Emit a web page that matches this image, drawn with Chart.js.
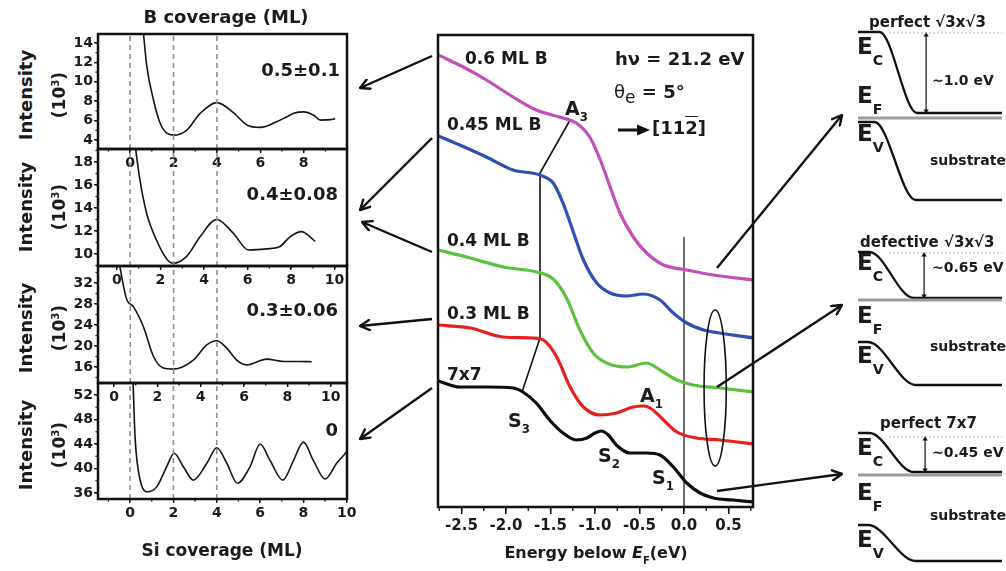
<!DOCTYPE html>
<html>
<head>
<meta charset="utf-8">
<script src="https://cdn.jsdelivr.net/npm/chart.js@4.4.1/dist/chart.umd.min.js"></script>
<style>
  body { margin: 0; background: #fff; }
  #fig { position: relative; width: 1006px; height: 571px; overflow: hidden;
         font-family: 'DejaVu Sans', sans-serif; font-weight: bold; color: #1b1b1b; }
  #fig canvas, #fig svg { position: absolute; }
  .t { position: absolute; white-space: nowrap; line-height: 1; }
  .sb { font-size: 0.62em; position: relative; top: 0.55em; }
  .sp { font-size: 0.6em; position: relative; top: -0.6em; }
</style>
</head>
<body>
<div id="fig">
  <canvas id="p1" width="320" height="150" style="left:40px;top:24px"></canvas>
  <canvas id="p2" width="320" height="152" style="left:40px;top:139px"></canvas>
  <canvas id="p3" width="320" height="152" style="left:40px;top:256px"></canvas>
  <canvas id="p4" width="320" height="151" style="left:40px;top:373px"></canvas>
  <canvas id="ups" width="360" height="545" style="left:410px;top:25px"></canvas>
  <canvas id="bandA" width="156" height="200" style="left:850px;top:15px"></canvas>
  <canvas id="bandB" width="156" height="165" style="left:850px;top:235px"></canvas>
  <canvas id="bandC" width="156" height="156" style="left:850px;top:415px"></canvas>
  <div id="labels"></div>
  <svg width="1006" height="571" style="left:0;top:0">
    <defs>
      <marker id="hd" viewBox="0 0 12 12" refX="11" refY="6" markerWidth="12" markerHeight="12"
              markerUnits="userSpaceOnUse" orient="auto">
        <path d="M1.5,1 L11,6 L1.5,11" fill="none" stroke="#111" stroke-width="2.4"
              stroke-linecap="round" stroke-linejoin="round"/>
      </marker>
    </defs>
    <g stroke="#111" stroke-width="2.4" marker-end="url(#hd)">
      <line x1="432" y1="56" x2="360" y2="88"/>
      <line x1="432" y1="138" x2="360" y2="210"/>
      <line x1="432" y1="252" x2="362" y2="222"/>
      <line x1="432" y1="319" x2="360" y2="326"/>
      <line x1="432" y1="388" x2="360" y2="439"/>
      <line x1="717" y1="268" x2="842" y2="115"/>
      <line x1="717" y1="387" x2="842" y2="305"/>
      <line x1="717" y1="491" x2="842" y2="474"/>
    </g>
    <line x1="618" y1="130" x2="640" y2="130" stroke="#111" stroke-width="3"/>
    <path d="M637,124.5 L650,130 L637,135.5 Z" fill="#111"/>
  </svg>
</div>
<script>
// ---- RHEED intensity (10^3) vs Si coverage (ML), one trace per B coverage ----
const siCov1 = [0.5, 0.62, 0.77, 1.08, 1.38, 1.69, 2.0, 2.6, 3.23, 4.0, 4.77, 5.38, 6.0, 6.77, 7.23, 7.54, 8.0, 8.46, 8.77, 9.23, 9.45];
const rheed1 = [18, 14.9, 11.6, 8.1, 5.75, 4.7, 4.5, 5.0, 6.75, 7.85, 6.8, 5.55, 5.3, 5.9, 6.4, 6.75, 6.9, 6.55, 6.05, 6.1, 6.2];
const siCov2 = [0.8, 1.06, 1.37, 1.82, 2.28, 2.59, 3.2, 3.82, 4.58, 5.35, 6.04, 6.88, 7.49, 7.95, 8.49, 8.87, 9.1];
const rheed2 = [20, 16.4, 13.5, 11.2, 9.6, 9.2, 9.8, 11.5, 13.0, 11.8, 10.35, 10.45, 10.65, 11.5, 11.95, 11.5, 11.1];
const siCov3 = [0.2, 0.28, 0.59, 0.89, 1.35, 1.82, 2.28, 2.74, 3.66, 4.28, 4.74, 5.2, 5.66, 6.12, 7.05, 7.81, 8.58, 9.12];
const rheed3 = [37, 34.9, 28.8, 27.5, 23.7, 18.0, 15.8, 15.6, 17.3, 20.2, 21.0, 19.6, 17.3, 16.4, 17.5, 17.05, 17.05, 17.0];
const siCov4 = [0.12, 0.23, 0.38, 0.77, 1.23, 1.69, 2.03, 2.46, 2.92, 3.54, 4.0, 4.46, 4.95, 5.54, 6.0, 6.46, 7.05, 7.54, 8.0, 8.46, 9.0, 9.54, 10.0, 10.2];
const rheed4 = [56, 45.2, 39.7, 36.2, 37.0, 40.3, 42.5, 40.3, 38.1, 40.85, 43.4, 40.9, 37.6, 40.3, 44.0, 41.3, 38.1, 41.3, 44.3, 41.3, 38.3, 40.9, 42.8, 44];

// dashed guides (Si coverage of the oscillation extrema)
const guide1 = [0, 2, 4];
const guide2 = [0.6, 2.6, 4.6];
const guide3 = [0.75, 2.75, 4.75];
const guide4 = [0, 2, 4];

// ---- UPS spectra: energy below E_F (eV) and intensity (arb. units) ----
const eMag = [-2.76, -2.48, -2.22, -1.92, -1.66, -1.36, -1.21, -1.06, -0.94, -0.83, -0.72, -0.57, -0.42, -0.23, 0.03, 0.33, 0.78];
const iMag = [452, 440, 427, 410, 397, 389, 384, 370, 347, 320, 294, 270, 254, 242, 237, 232, 227];
const eBlue = [-2.76, -2.52, -2.22, -1.92, -1.62, -1.47, -1.36, -1.24, -1.13, -0.98, -0.83, -0.64, -0.46, -0.27, -0.12, 0.03, 0.22, 0.40, 0.78];
const iBlue = [371, 362, 350, 337, 332, 324, 304, 274, 247, 224, 214, 211, 213, 207, 194, 184, 177, 174, 169];
const eGreen = [-2.76, -2.40, -2.03, -1.66, -1.47, -1.32, -1.17, -1.02, -0.87, -0.64, -0.42, -0.27, -0.08, 0.10, 0.40, 0.78];
const iGreen = [257, 249, 240, 235, 228, 209, 177, 154, 144, 140, 144, 137, 127, 122, 119, 115];
const eRed = [-2.76, -2.40, -2.03, -1.69, -1.58, -1.43, -1.28, -1.13, -0.94, -0.76, -0.57, -0.45, -0.38, -0.23, -0.08, 0.14, 0.40, 0.78];
const iRed = [182, 179, 170, 169, 167, 150, 120, 100, 92, 94, 100, 101, 99, 87, 75, 69, 67, 63];
const eBlack = [-2.76, -2.52, -2.22, -1.92, -1.81, -1.66, -1.51, -1.36, -1.21, -1.09, -1.0, -0.93, -0.85, -0.76, -0.61, -0.42, -0.27, -0.12, 0.03, 0.18, 0.33, 0.55, 0.78];
const iBlack = [126, 120, 120, 119, 115, 104, 87, 74, 67, 69, 74, 76, 72, 62, 54, 54, 52, 40, 24, 14, 9, 7, 5];
// S3 -> A3 peak tracking line
const trackE = [-1.82, -1.618, -1.618, -1.28];
const trackI = [115, 169, 334, 387];

// ---- band diagrams: depth (0 = surface) and level relative to E_F ----
const depthCA = [0, 0.15, 0.41, 1], levelCA = [86, 86, 5, 5];
const depthVA = [0, 0.115, 0.40, 1], levelVA = [-4, -4, -82, -82];
const depthCB = [0, 0.08, 0.385, 1], levelCB = [48, 48, 2, 2];
const depthVB = [0, 0.07, 0.40, 1], levelVB = [-42, -42, -85, -85];
const depthCC = [0, 0.08, 0.385, 1], levelCC = [42, 42, 3, 3];
const depthVC = [0, 0.07, 0.40, 1], levelVC = [-50, -50, -86, -86];

Chart.defaults.font.family = "'DejaVu Sans', sans-serif";
Chart.defaults.font.weight = 'bold';
Chart.defaults.color = '#1b1b1b';
Chart.defaults.animation = false;

const pts = (xs, ys) => xs.map((x, i) => ({ x: x, y: ys[i] }));

// box around the plot area
const frame = {
  id: 'frame',
  afterDatasetsDraw(chart, args, opts) {
    const a = chart.chartArea, ctx = chart.ctx;
    ctx.save();
    ctx.strokeStyle = '#111';
    ctx.lineWidth = opts.width || 2.5;
    ctx.strokeRect(a.left, a.top, a.right - a.left, a.bottom - a.top);
    ctx.restore();
  }
};

// short ticks between the labelled ones
const minorTicks = {
  id: 'minorTicks',
  afterDraw(chart, args, opts) {
    const ctx = chart.ctx, a = chart.chartArea;
    ctx.save();
    ctx.strokeStyle = '#111';
    ctx.lineWidth = 1.3;
    ['x', 'y'].forEach(id => {
      const step = opts[id];
      if (!step) return;
      const s = chart.scales[id];
      for (let v = Math.ceil(s.min / step) * step; v <= s.max + 1e-9; v += step) {
        const p = s.getPixelForValue(v);
        ctx.beginPath();
        if (id === 'x') { ctx.moveTo(p, a.bottom); ctx.lineTo(p, a.bottom + opts.len); }
        else { ctx.moveTo(a.left, p); ctx.lineTo(a.left - opts.len, p); }
        ctx.stroke();
      }
    });
    ctx.restore();
  }
};

// ellipse grouping the spectra near E_F
const ellipseMark = {
  id: 'ellipseMark',
  afterDatasetsDraw(chart, args, o) {
    const sx = chart.scales.x, sy = chart.scales.y, ctx = chart.ctx;
    const cx = sx.getPixelForValue(o.cx), cy = sy.getPixelForValue(o.cy);
    const rx = Math.abs(sx.getPixelForValue(o.cx + o.rx) - cx);
    const ry = Math.abs(sy.getPixelForValue(o.cy + o.ry) - cy);
    ctx.save();
    ctx.strokeStyle = '#111';
    ctx.lineWidth = 1.6;
    ctx.beginPath();
    ctx.ellipse(cx, cy, rx, ry, 0, 0, Math.PI * 2);
    ctx.stroke();
    ctx.restore();
  }
};

function rheedPanel(id, xs, ys, guides, xr, yr, yStep, yMinor) {
  const dashed = guides.map(v => ({
    data: [{ x: v, y: yr[0] }, { x: v, y: yr[1] }],
    borderColor: '#8f8f8f', borderWidth: 1.6, borderDash: [5, 4], pointRadius: 0
  }));
  return new Chart(document.getElementById(id), {
    type: 'line',
    data: {
      datasets: dashed.concat([{
        data: pts(xs, ys), borderColor: '#141414', borderWidth: 1.6,
        pointRadius: 0, cubicInterpolationMode: 'monotone'
      }])
    },
    options: {
      responsive: false,
      layout: { padding: { left: 0, right: 13, top: 10, bottom: 0 } },
      plugins: {
        legend: { display: false }, tooltip: { enabled: false },
        minorTicks: { x: 1, y: yMinor, len: 2.5 }
      },
      scales: {
        x: {
          type: 'linear', min: xr[0], max: xr[1],
          afterFit: s => { s.height = 25; },
          border: { display: false },
          grid: { drawOnChartArea: false, color: '#141414', tickLength: 4, lineWidth: 1.4 },
          ticks: { stepSize: 2, includeBounds: false, autoSkip: false, maxRotation: 0, padding: 2, font: { size: 14 } }
        },
        y: {
          min: yr[0], max: yr[1],
          afterFit: s => { s.width = 58; },
          border: { display: false },
          grid: { drawOnChartArea: false, color: '#141414', tickLength: 4, lineWidth: 1.4 },
          ticks: { stepSize: yStep, includeBounds: false, autoSkip: false, padding: 1, font: { size: 14 } }
        }
      }
    },
    plugins: [frame, minorTicks]
  });
}

rheedPanel('p1', siCov1, rheed1, guide1, [-1.48, 9.995], [3.07, 14.93], 2, 1);
rheedPanel('p2', siCov2, rheed2, guide2, [-0.87, 10.57], [8.96, 19.13], 2, 1);
rheedPanel('p3', siCov3, rheed3, guide3, [-0.74, 10.75], [12.95, 35.24], 4, 2);
rheedPanel('p4', siCov4, rheed4, guide4, [-1.48, 10.01], [35.02, 53.96], 4, 2);

// UPS spectra
const spectrum = (e, v, color) => ({
  data: pts(e, v), borderColor: color, borderWidth: 3.2, pointRadius: 0, cubicInterpolationMode: 'monotone'
});
new Chart(document.getElementById('ups'), {
  type: 'line',
  data: {
    datasets: [
      spectrum(eMag, iMag, '#c24fb6'),
      spectrum(eBlue, iBlue, '#2f4fb2'),
      spectrum(eGreen, iGreen, '#5cc13c'),
      spectrum(eRed, iRed, '#e61f1f'),
      spectrum(eBlack, iBlack, '#0d0d0d'),
      { data: pts(trackE, trackI), borderColor: '#111', borderWidth: 1.6, pointRadius: 0 },
      { data: [{ x: 0, y: 0 }, { x: 0, y: 270 }], borderColor: '#111', borderWidth: 1.2, pointRadius: 0 }
    ]
  },
  options: {
    responsive: false,
    layout: { padding: { left: 28, right: 17, top: 10, bottom: 0 } },
    plugins: {
      legend: { display: false }, tooltip: { enabled: false },
      minorTicks: { x: 0.25, len: 4 },
      ellipseMark: { cx: 0.35, cy: 119, rx: 0.125, ry: 78 }
    },
    scales: {
      x: {
        type: 'linear', min: -2.764, max: 0.775,
        afterFit: s => { s.height = 63; },
        border: { display: false },
        grid: { drawOnChartArea: false, color: '#111', tickLength: 7, lineWidth: 1.5 },
        ticks: {
          stepSize: 0.5, includeBounds: false, autoSkip: false, maxRotation: 0, padding: 3,
          font: { size: 15 },
          callback: v => (Math.abs(v) < 1e-9 ? 0 : v).toFixed(1)
        }
      },
      y: { display: false, min: 0, max: 472 }
    }
  },
  plugins: [frame, minorTicks, ellipseMark]
});

// band bending diagrams
function bandPanel(id, dc, lc, dv, lv, top, arrowDepth, yr) {
  new Chart(document.getElementById(id), {
    type: 'line',
    data: {
      datasets: [
        { data: [{ x: 0, y: 0 }, { x: 1, y: 0 }], borderColor: '#9c9c9c', borderWidth: 3, pointRadius: 0 },
        { data: [{ x: 0.216, y: top }, { x: 1, y: top }], borderColor: '#a9a9a9', borderWidth: 1.2, borderDash: [2, 2], pointRadius: 0 },
        { data: pts(dc, lc), borderColor: '#111', borderWidth: 2.3, pointRadius: 0, cubicInterpolationMode: 'monotone' },
        { data: pts(dv, lv), borderColor: '#111', borderWidth: 2.3, pointRadius: 0, cubicInterpolationMode: 'monotone' },
        {
          data: [{ x: arrowDepth, y: top - 2 }, { x: arrowDepth, y: lc[2] + 2 }],
          borderColor: '#111', borderWidth: 1.2, pointStyle: 'triangle', pointRadius: 3,
          pointRotation: [0, 180], pointBackgroundColor: '#111', pointBorderWidth: 0
        }
      ]
    },
    options: {
      responsive: false,
      layout: { padding: { left: 8, right: 0, top: 5, bottom: 5 } },
      plugins: { legend: { display: false }, tooltip: { enabled: false } },
      scales: {
        x: { type: 'linear', display: false, min: 0, max: 1 },
        y: { display: false, min: yr[0], max: yr[1] }
      }
    }
  });
}
bandPanel('bandA', depthCA, levelCA, depthVA, levelVA, 85, 0.473, [-92, 98]);
bandPanel('bandB', depthCB, levelCB, depthVB, levelVB, 47, 0.459, [-95, 60]);
bandPanel('bandC', depthCC, levelCC, depthVC, levelVC, 38, 0.466, [-91, 55]);

// text: [html, x, cap-centre y, size, align, rotate]
const texts = [
  ['B coverage (ML)', 226, 17, 18, 'c'],
  ['Si coverage (ML)', 222, 550, 17, 'c'],
  ['0.5±0.1', 340, 70, 18, 'r'],
  ['0.4±0.08', 338, 194, 18, 'r'],
  ['0.3±0.06', 338, 310, 18, 'r'],
  ['0', 338, 430, 18, 'r'],
  ['0.6 ML B', 465, 58, 17, 'l'],
  ['0.45 ML B', 447, 124, 17, 'l'],
  ['0.4 ML B', 447, 240, 17, 'l'],
  ['0.3 ML B', 447, 313, 17, 'l'],
  ['7x7', 447, 374, 17, 'l'],
  ['hν = 21.2 eV', 615, 59, 18, 'l'],
  ['<span style="font-weight:normal">θ</span><span style="font-weight:normal;font-size:0.95em;position:relative;top:0.3em">e</span> = 5°', 614, 92, 18, 'l'],
  ['[11<span style="text-decoration:overline">2</span>]', 652, 128, 18, 'l'],
  ['A<span class="sb">3</span>', 565, 108, 19, 'l'],
  ['A<span class="sb">1</span>', 640, 395, 19, 'l'],
  ['S<span class="sb">3</span>', 508, 420, 19, 'l'],
  ['S<span class="sb">2</span>', 598, 455, 19, 'l'],
  ['S<span class="sb">1</span>', 652, 477, 19, 'l'],
  ['Energy below <i>E</i><span class="sb">F</span>(eV)', 596, 553, 16, 'c'],
  ['perfect √3x√3', 869, 22, 15, 'l'],
  ['~1.0 eV', 932, 80, 14, 'l'],
  ['substrate', 930, 160, 14, 'l'],
  ['defective √3x√3', 860, 242, 15, 'l'],
  ['~0.65 eV', 932, 267, 14, 'l'],
  ['substrate', 930, 346, 14, 'l'],
  ['perfect 7x7', 880, 423, 15, 'l'],
  ['~0.45 eV', 932, 452, 14, 'l'],
  ['substrate', 930, 515, 14, 'l']
];
const bandE = [
  ['C', 46.5], ['F', 95.5], ['V', 133.5],
  ['C', 262.5], ['F', 315.5], ['V', 355.5],
  ['C', 447.5], ['F', 492.5], ['V', 539.5]
];
bandE.forEach(([s, y]) => texts.push(['E<span class="sb" style="top:0.75em">' + s + '</span>', 857, y, 23, 'l']));
[95, 207, 328, 445].forEach(y => {
  texts.push(['Intensity', 26, y, 18, 'c', true]);
  texts.push(['(10<span class="sp">3</span>)', 59, y, 17, 'c', true]);
});

const box = document.getElementById('labels');
texts.forEach(([html, x, y, size, align, rot]) => {
  const d = document.createElement('div');
  d.className = 't';
  d.innerHTML = html;
  d.style.fontSize = size + 'px';
  d.style.left = x + 'px';
  if (rot) {
    d.style.top = y + 'px';
    d.style.transform = 'translate(-50%,-50%) rotate(-90deg)';
  } else {
    d.style.top = (y - 0.48 * size) + 'px';
    const tx = align === 'c' ? '-50%' : align === 'r' ? '-100%' : '0';
    d.style.transform = 'translateX(' + tx + ')';
  }
  box.appendChild(d);
});
</script>
</body>
</html>
